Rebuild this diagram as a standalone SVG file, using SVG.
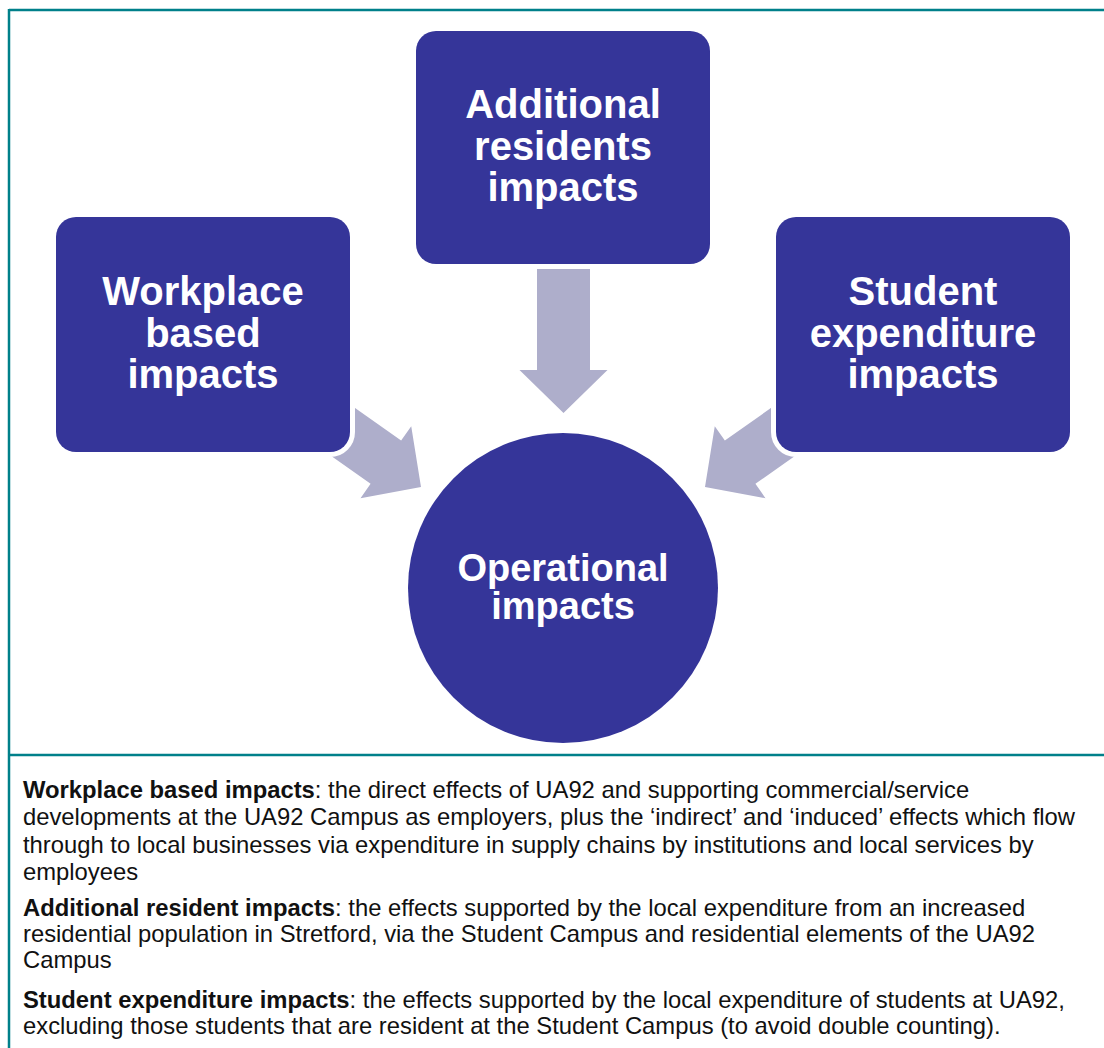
<svg xmlns="http://www.w3.org/2000/svg" width="1104" height="1048" viewBox="0 0 1104 1048">
  <style>
    .frame { stroke: #00808A; stroke-width: 2.5; fill: none; }
    .box { fill: #353599; stroke: #ffffff; stroke-width: 10; paint-order: stroke; }
    .arrow { fill: #AEAECB; }
    .nodeText { font-family: "Liberation Sans", Arial, sans-serif; font-weight: bold; font-size: 40px; fill: #ffffff; text-anchor: middle; }
    .circText { font-family: "Liberation Sans", Arial, sans-serif; font-weight: bold; font-size: 38px; fill: #ffffff; text-anchor: middle; }
    .desc { font-family: "Liberation Sans", Arial, sans-serif; font-size: 23.8px; fill: #111111; }
    .desc .b { font-weight: bold; }
  </style>
  <defs>
    <path id="arrowShape" d="M -200 -26.5 L -43 -26.5 L -43 -44 L 0 0 L -43 44 L -43 26.5 L -200 26.5 Z"/>
  </defs>
  <rect width="1104" height="1048" fill="#ffffff"/>

  <g id="frame">
    <line class="frame" x1="9" y1="10" x2="1104" y2="10"/>
    <line class="frame" x1="9" y1="9" x2="9" y2="1048"/>
    <line class="frame" x1="9" y1="755" x2="1104" y2="755"/>
  </g>

  <g id="connectors">
    <use href="#arrowShape" class="arrow" transform="translate(563.5,413) rotate(90)"/>
    <use href="#arrowShape" class="arrow" transform="translate(421,487) rotate(35.2)"/>
    <use href="#arrowShape" class="arrow" transform="translate(705,487) rotate(144.8)"/>
  </g>

  <g id="node-workplace">
    <rect class="box" x="56" y="217" width="294" height="235" rx="20" ry="20"/>
    <text class="nodeText" x="203" y="305">Workplace</text>
    <text class="nodeText" x="203" y="347">based</text>
    <text class="nodeText" x="203" y="388">impacts</text>
  </g>

  <g id="node-residents">
    <rect class="box" x="416" y="31" width="294" height="233" rx="20" ry="20"/>
    <text class="nodeText" x="563" y="118">Additional</text>
    <text class="nodeText" x="563" y="160">residents</text>
    <text class="nodeText" x="563" y="201">impacts</text>
  </g>

  <g id="node-student">
    <rect class="box" x="776" y="217" width="294" height="235" rx="20" ry="20"/>
    <text class="nodeText" x="923" y="305">Student</text>
    <text class="nodeText" x="923" y="347">expenditure</text>
    <text class="nodeText" x="923" y="388">impacts</text>
  </g>

  <g id="node-operational">
    <circle cx="563" cy="588" r="155" fill="#353599"/>
    <text class="circText" x="563" y="581">Operational</text>
    <text class="circText" x="563" y="619">impacts</text>
  </g>

  <g id="descriptions" class="desc">
    <text x="23" y="798"><tspan class="b">Workplace based impacts</tspan>: the direct effects of UA92 and supporting commercial/service</text>
    <text x="23" y="825">developments at the UA92 Campus as employers, plus the ‘indirect’ and ‘induced’ effects which flow</text>
    <text x="23" y="853">through to local businesses via expenditure in supply chains by institutions and local services by</text>
    <text x="23" y="880">employees</text>
    <text x="23" y="916"><tspan class="b">Additional resident impacts</tspan>: the effects supported by the local expenditure from an increased</text>
    <text x="23" y="942">residential population in Stretford, via the Student Campus and residential elements of the UA92</text>
    <text x="23" y="968">Campus</text>
    <text x="23" y="1008"><tspan class="b">Student expenditure impacts</tspan>: the effects supported by the local expenditure of students at UA92,</text>
    <text x="23" y="1034">excluding those students that are resident at the Student Campus (to avoid double counting).</text>
  </g>
</svg>
